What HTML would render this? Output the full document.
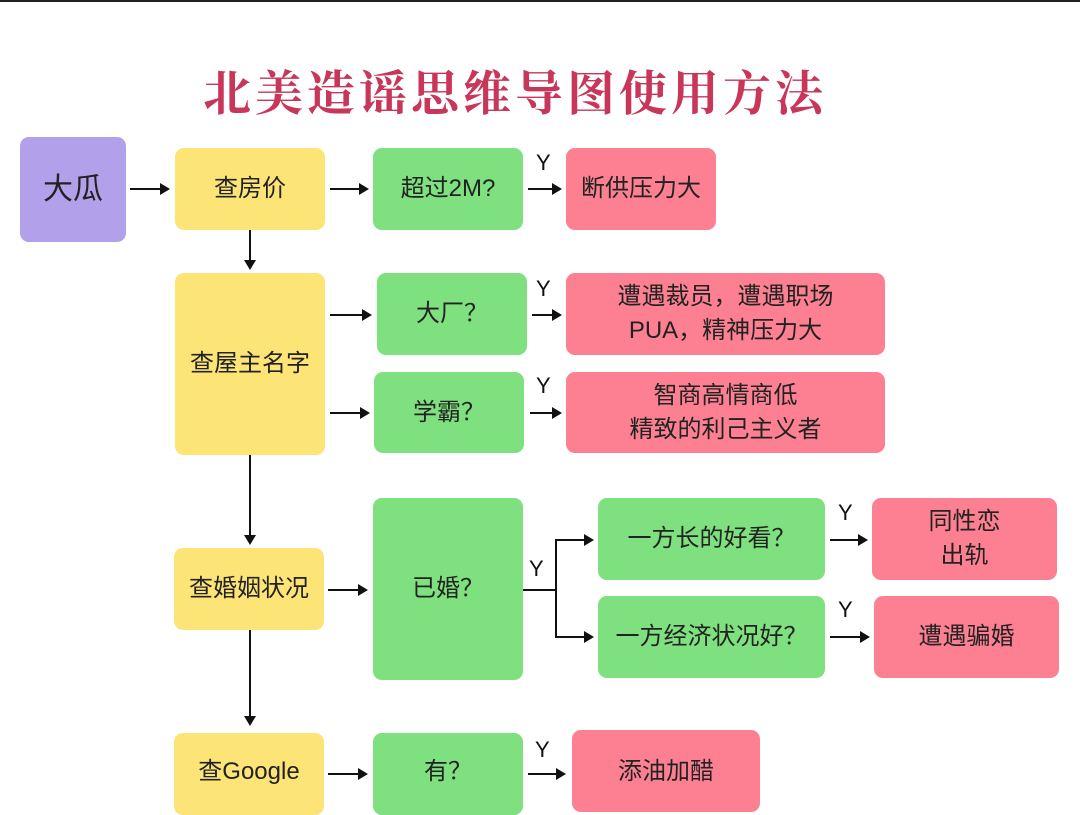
<!DOCTYPE html>
<html><head><meta charset="utf-8"><style>
body{margin:0;width:1080px;height:778px;background:#fff;position:relative;overflow:hidden;font-family:"Liberation Sans","Noto Sans CJK SC",sans-serif;}
.b{position:absolute;border-radius:9px;display:flex;align-items:center;justify-content:center;text-align:center;font-size:24px;color:#222;line-height:34px;}
.p{background:#b3a0ea}.y{background:#fde477}.g{background:#7ee07f}.r{background:#fc8091}
.h{position:absolute;height:2px;background:#111}
.h:after{content:"";position:absolute;right:-2px;top:-5px;border-left:10px solid #111;border-top:6px solid transparent;border-bottom:6px solid transparent}
.v{position:absolute;width:2px;background:#111}
.v.a:after{content:"";position:absolute;bottom:-2px;left:-5px;border-top:10px solid #111;border-left:6px solid transparent;border-right:6px solid transparent}
.l{position:absolute;width:2px;background:#111}
.Y{position:absolute;font-size:22px;color:#111}
.title{position:absolute;left:0;width:1030px;top:55px;text-align:center;font-family:"Noto Serif CJK SC",serif;font-weight:bold;font-size:48px;color:#c8365a;letter-spacing:4px}
</style></head><body>
<div style="position:absolute;left:0;top:0;width:1080px;height:2px;background:#222"></div>
<div class="title">北美造谣思维导图使用方法</div>

<div class="b p" style="left:20px;top:137px;width:106px;height:105px;font-size:30px">大瓜</div>
<div class="b y" style="left:175px;top:148px;width:150px;height:82px">查房价</div>
<div class="b g" style="left:373px;top:148px;width:150px;height:82px">超过2M?</div>
<div class="b r" style="left:566px;top:148px;width:150px;height:82px">断供压力大</div>

<div class="b y" style="left:175px;top:273px;width:150px;height:182px">查屋主名字</div>
<div class="b g" style="left:377px;top:273px;width:150px;height:82px">大厂？</div>
<div class="b r" style="left:566px;top:273px;width:319px;height:82px">遭遇裁员，遭遇职场<br>PUA，精神压力大</div>
<div class="b g" style="left:374px;top:372px;width:150px;height:81px">学霸？</div>
<div class="b r" style="left:566px;top:372px;width:319px;height:81px">智商高情商低<br>精致的利己主义者</div>

<div class="b y" style="left:174px;top:548px;width:150px;height:82px">查婚姻状况</div>
<div class="b g" style="left:373px;top:498px;width:150px;height:182px">已婚？</div>
<div class="b g" style="left:598px;top:498px;width:227px;height:82px">一方长的好看？</div>
<div class="b r" style="left:872px;top:498px;width:185px;height:82px">同性恋<br>出轨</div>
<div class="b g" style="left:598px;top:596px;width:227px;height:82px">一方经济状况好？</div>
<div class="b r" style="left:874px;top:596px;width:185px;height:82px">遭遇骗婚</div>

<div class="b y" style="left:174px;top:733px;width:150px;height:82px;align-items:flex-start;padding-top:0"><span style="margin-top:22px">查Google</span></div>
<div class="b g" style="left:373px;top:733px;width:150px;height:82px;align-items:flex-start"><span style="margin-top:22px">有？</span></div>
<div class="b r" style="left:572px;top:730px;width:188px;height:82px;align-items:flex-start"><span style="margin-top:25px">添油加醋</span></div>

<div class="h" style="left:130px;top:188px;width:38px"></div>
<div class="h" style="left:330px;top:188px;width:37px"></div>
<div class="h" style="left:528px;top:188px;width:32px"></div>
<div class="h" style="left:330px;top:314px;width:40px"></div>
<div class="h" style="left:532px;top:314px;width:28px"></div>
<div class="h" style="left:330px;top:412px;width:38px"></div>
<div class="h" style="left:530px;top:412px;width:30px"></div>
<div class="h" style="left:328px;top:589px;width:38px"></div>
<div class="l" style="left:523px;top:589px;width:32px;height:2px"></div>
<div class="l" style="left:555px;top:539px;height:99px"></div>
<div class="h" style="left:555px;top:539px;width:37px"></div>
<div class="h" style="left:555px;top:636px;width:37px"></div>
<div class="h" style="left:830px;top:539px;width:36px"></div>
<div class="h" style="left:830px;top:636px;width:38px"></div>
<div class="h" style="left:328px;top:773px;width:38px"></div>
<div class="h" style="left:528px;top:773px;width:36px"></div>

<div class="v a" style="left:249px;top:230px;height:38px"></div>
<div class="v" style="left:249px;top:455px;height:88px"></div>
<div class="v a" style="left:249px;top:455px;height:88px"></div>
<div class="v a" style="left:249px;top:630px;height:94px"></div>

<div class="Y" style="left:536px;top:150px">Y</div>
<div class="Y" style="left:536px;top:276px">Y</div>
<div class="Y" style="left:536px;top:373px">Y</div>
<div class="Y" style="left:529px;top:556px">Y</div>
<div class="Y" style="left:838px;top:500px">Y</div>
<div class="Y" style="left:838px;top:597px">Y</div>
<div class="Y" style="left:535px;top:737px">Y</div>
</body></html>
